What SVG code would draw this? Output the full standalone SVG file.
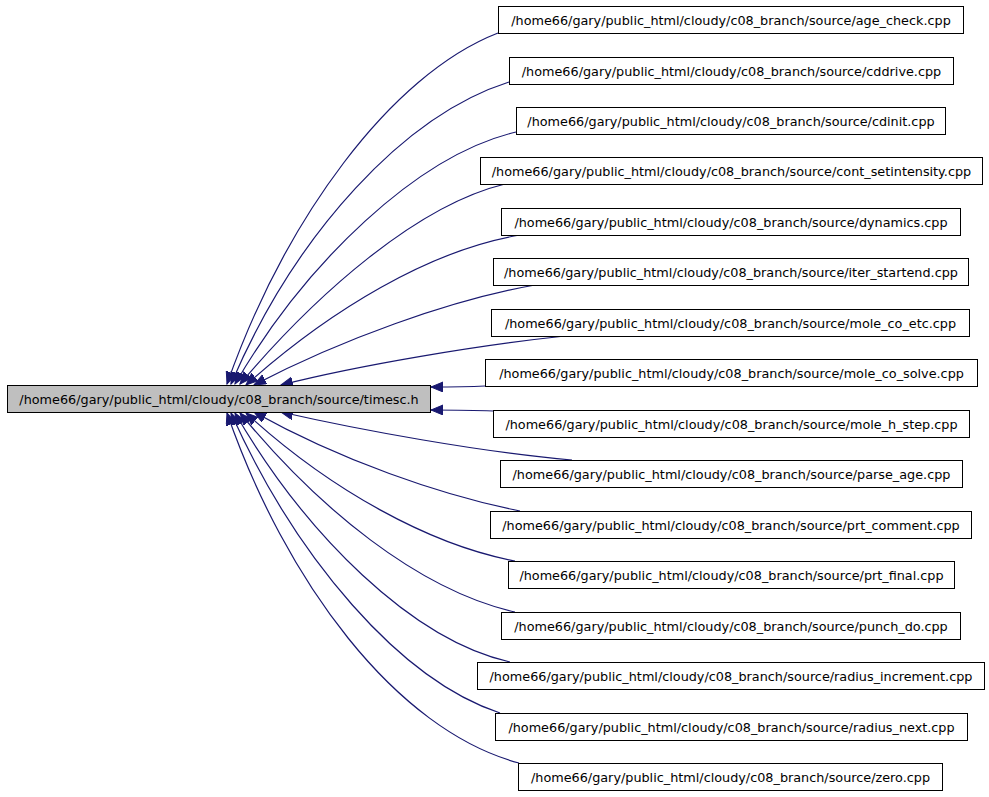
<svg xmlns="http://www.w3.org/2000/svg" width="989" height="797" viewBox="0 0 989 797">
<style>
.n rect{fill:#ffffff;stroke:#000000;stroke-width:1}
#main rect{fill:#bfbfbf}
text{font-family:"DejaVu Sans",sans-serif;font-size:12.8px;text-anchor:middle;fill:#000000}
.e path{fill:none;stroke:#191970;stroke-width:1.2}
</style>
<defs>
<marker id="ah" markerUnits="userSpaceOnUse" markerWidth="14" markerHeight="11" refX="12" refY="5" orient="auto">
<path d="M0,0 L12,5 L0,10 z" fill="#191970" stroke="#191970"/>
</marker>
</defs>
<rect width="989" height="797" fill="#ffffff"/>
<g class="e" id="edges">
<path marker-end="url(#ah)" d="M498,33 C390,75 285,220 227,384"/>
<path marker-end="url(#ah)" d="M509,82 C405,115 296,232 231,384"/>
<path marker-end="url(#ah)" d="M516,132 C418,155 306,262 235,384"/>
<path marker-end="url(#ah)" d="M505,184 C418,205 318,292 240,384"/>
<path marker-end="url(#ah)" d="M520,235 C430,250 330,310 246,385"/>
<path marker-end="url(#ah)" d="M535,285 C450,300 340,340 254,385"/>
<path marker-end="url(#ah)" d="M565,336 C480,345 360,365 281,385"/>
<path marker-end="url(#ah)" d="M485,386 C465,387 450,387 431,387"/>
<path marker-end="url(#ah)" d="M493,411 C470,410 452,410 431,410"/>
<path marker-end="url(#ah)" d="M572,460 C480,452 360,430 281,412"/>
<path marker-end="url(#ah)" d="M520,511 C440,495 340,460 254,412"/>
<path marker-end="url(#ah)" d="M515,561 C430,545 330,490 246,413"/>
<path marker-end="url(#ah)" d="M515,612 C418,590 318,508 240,413"/>
<path marker-end="url(#ah)" d="M510,662 C412,640 306,535 235,413"/>
<path marker-end="url(#ah)" d="M500,713 C400,680 296,558 231,413"/>
<path marker-end="url(#ah)" d="M519,763 C395,730 285,580 227,413"/>
</g>
<g class="n" id="main"><rect x="7.5" y="385.5" width="423" height="27"/><text x="219" y="403.5">/home66/gary/public_html/cloudy/c08_branch/source/timesc.h</text></g>
<g class="n" id="n1"><rect x="498.5" y="6.5" width="465" height="27"/><text x="731" y="24.5">/home66/gary/public_html/cloudy/c08_branch/source/age_check.cpp</text></g>
<g class="n" id="n2"><rect x="509.5" y="57.5" width="444" height="27"/><text x="731.5" y="75.5">/home66/gary/public_html/cloudy/c08_branch/source/cddrive.cpp</text></g>
<g class="n" id="n3"><rect x="516.5" y="107.5" width="429" height="27"/><text x="731" y="125.5">/home66/gary/public_html/cloudy/c08_branch/source/cdinit.cpp</text></g>
<g class="n" id="n4"><rect x="480.5" y="157.5" width="502" height="27"/><text x="731.5" y="175.5">/home66/gary/public_html/cloudy/c08_branch/source/cont_setintensity.cpp</text></g>
<g class="n" id="n5"><rect x="501.5" y="208.5" width="459" height="27"/><text x="731" y="226.5">/home66/gary/public_html/cloudy/c08_branch/source/dynamics.cpp</text></g>
<g class="n" id="n6"><rect x="493.5" y="258.5" width="475" height="27"/><text x="731" y="276.5">/home66/gary/public_html/cloudy/c08_branch/source/iter_startend.cpp</text></g>
<g class="n" id="n7"><rect x="491.5" y="309.5" width="478" height="27"/><text x="730.5" y="327.5">/home66/gary/public_html/cloudy/c08_branch/source/mole_co_etc.cpp</text></g>
<g class="n" id="n8"><rect x="485.5" y="359.5" width="492" height="27"/><text x="731.5" y="377.5">/home66/gary/public_html/cloudy/c08_branch/source/mole_co_solve.cpp</text></g>
<g class="n" id="n9"><rect x="493.5" y="410.5" width="476" height="27"/><text x="731.5" y="428.5">/home66/gary/public_html/cloudy/c08_branch/source/mole_h_step.cpp</text></g>
<g class="n" id="n10"><rect x="500.5" y="460.5" width="462" height="27"/><text x="731.5" y="478.5">/home66/gary/public_html/cloudy/c08_branch/source/parse_age.cpp</text></g>
<g class="n" id="n11"><rect x="490.5" y="511.5" width="481" height="27"/><text x="731" y="529.5">/home66/gary/public_html/cloudy/c08_branch/source/prt_comment.cpp</text></g>
<g class="n" id="n12"><rect x="508.5" y="561.5" width="446" height="27"/><text x="731.5" y="579.5">/home66/gary/public_html/cloudy/c08_branch/source/prt_final.cpp</text></g>
<g class="n" id="n13"><rect x="501.5" y="612.5" width="459" height="27"/><text x="731" y="630.5">/home66/gary/public_html/cloudy/c08_branch/source/punch_do.cpp</text></g>
<g class="n" id="n14"><rect x="477.5" y="662.5" width="507" height="27"/><text x="731" y="680.5">/home66/gary/public_html/cloudy/c08_branch/source/radius_increment.cpp</text></g>
<g class="n" id="n15"><rect x="495.5" y="713.5" width="472" height="27"/><text x="731.5" y="731.5">/home66/gary/public_html/cloudy/c08_branch/source/radius_next.cpp</text></g>
<g class="n" id="n16"><rect x="518.5" y="763.5" width="424" height="27"/><text x="730.5" y="781.5">/home66/gary/public_html/cloudy/c08_branch/source/zero.cpp</text></g>
</svg>
